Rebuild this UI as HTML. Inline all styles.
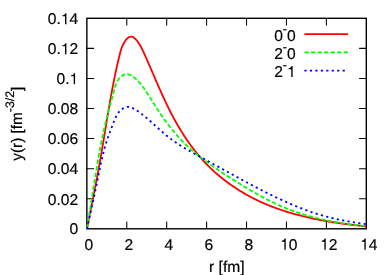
<!DOCTYPE html>
<html><head><meta charset="utf-8"><title>plot</title>
<style>html,body{margin:0;padding:0;background:#fff}body{width:392px;height:275px;overflow:hidden}</style>
</head><body>
<svg width="392" height="275" viewBox="0 0 392 275" style="display:block;will-change:transform">
<rect width="392" height="275" fill="#fff"/>
<g font-family="Liberation Sans, sans-serif" font-size="15.6px" fill="#000" stroke="#000" stroke-width="0.2" text-rendering="geometricPrecision">
<text x="69.48" y="234.45">0</text>
<text x="47.79" y="204.50">0.02</text>
<text x="47.79" y="174.20">0.04</text>
<text x="47.79" y="144.20">0.06</text>
<text x="47.79" y="114.20">0.08</text>
<text x="56.47" y="84.20">0.</text><path transform="translate(69.48,84.20) scale(0.01560,-0.01560)" d="M359,0H272V505H101V568Q176,571 226,612Q276,653 296,709H359Z"/>
<text x="47.79" y="54.20">0.</text><path transform="translate(60.80,54.20) scale(0.01560,-0.01560)" d="M359,0H272V505H101V568Q176,571 226,612Q276,653 296,709H359Z"/><text x="69.48" y="54.20">2</text>
<text x="47.79" y="24.20">0.</text><path transform="translate(60.80,24.20) scale(0.01560,-0.01560)" d="M359,0H272V505H101V568Q176,571 226,612Q276,653 296,709H359Z"/><text x="69.48" y="24.20">4</text>
<text x="84.46" y="249.65">0</text>
<text x="124.46" y="249.65">2</text>
<text x="164.46" y="249.65">4</text>
<text x="204.46" y="249.65">6</text>
<text x="244.46" y="249.65">8</text>
<path transform="translate(280.13,249.65) scale(0.01560,-0.01560)" d="M359,0H272V505H101V568Q176,571 226,612Q276,653 296,709H359Z"/><text x="288.80" y="249.65">0</text>
<path transform="translate(320.13,249.65) scale(0.01560,-0.01560)" d="M359,0H272V505H101V568Q176,571 226,612Q276,653 296,709H359Z"/><text x="328.80" y="249.65">2</text>
<path transform="translate(360.13,249.65) scale(0.01560,-0.01560)" d="M359,0H272V505H101V568Q176,571 226,612Q276,653 296,709H359Z"/><text x="368.80" y="249.65">4</text>
<text x="226.8" y="272.1" text-anchor="middle">r [fm]</text>
<text transform="translate(22.2,123.7) rotate(-90)" text-anchor="middle" font-size="15.3px">y(r) [fm<tspan dy="-8.3" font-size="12.3px">-3/2</tspan><tspan dy="8.3">]</tspan></text>
<text x="295.7" y="40.85" text-anchor="end">0<tspan dy="-7.7" font-size="12.5px">-</tspan><tspan dy="7.7">0</tspan></text>
<text x="295.7" y="59.15" text-anchor="end">2<tspan dy="-7.7" font-size="12.5px">-</tspan><tspan dy="7.7">0</tspan></text>
<text x="287.03" y="77.05" text-anchor="end">2<tspan dy="-7.7" font-size="12.5px">-</tspan></text>
<path transform="translate(287.03,77.05) scale(0.01560,-0.01560)" d="M359,0H272V505H101V568Q176,571 226,612Q276,653 296,709H359Z"/>
</g>
<g stroke="#000" stroke-width="1.4" fill="none">
<rect x="86.85" y="18.3" width="279.45000000000005" height="210.5"/>
<path d="M126.77,228.8v-7.2M126.77,18.3v7.2M166.69,228.8v-7.2M166.69,18.3v7.2M206.61,228.8v-7.2M206.61,18.3v7.2M246.54,228.8v-7.2M246.54,18.3v7.2M286.46,228.8v-7.2M286.46,18.3v7.2M326.38,228.8v-7.2M326.38,18.3v7.2M86.85,198.73h7.2M366.3,198.73h-7.2M86.85,168.66h7.2M366.3,168.66h-7.2M86.85,138.59h7.2M366.3,138.59h-7.2M86.85,108.51h7.2M366.3,108.51h-7.2M86.85,78.44h7.2M366.3,78.44h-7.2M86.85,48.37h7.2M366.3,48.37h-7.2" stroke-width="1.05"/>
</g>
<g fill="none" stroke-width="1.8" stroke-linejoin="round">
<path d="M304.4,34.10H348.1" stroke="#ff0000"/>
<path d="M87.00,228.70 L87.20,227.67 L87.40,226.64 L87.60,225.61 L87.80,224.58 L88.00,223.55 L88.20,222.52 L88.41,221.48 L88.61,220.45 L88.81,219.42 L89.01,218.39 L89.22,217.36 L89.42,216.33 L89.62,215.29 L89.83,214.26 L90.03,213.23 L90.23,212.20 L90.44,211.16 L90.64,210.13 L90.84,209.10 L91.05,208.06 L91.25,207.03 L91.46,206.00 L91.66,204.96 L91.86,203.93 L92.07,202.89 L92.27,201.86 L92.48,200.83 L92.68,199.79 L92.88,198.76 L93.09,197.72 L93.29,196.69 L93.49,195.65 L93.70,194.62 L93.90,193.58 L94.10,192.55 L94.30,191.51 L94.50,190.48 L94.70,189.44 L94.91,188.41 L95.11,187.37 L95.31,186.34 L95.51,185.30 L95.71,184.27 L95.90,183.23 L96.10,182.20 L96.30,181.16 L96.50,180.13 L96.69,179.09 L96.89,178.05 L97.09,177.02 L97.28,175.98 L97.48,174.95 L97.67,173.91 L97.86,172.87 L98.06,171.84 L98.25,170.80 L98.44,169.77 L98.63,168.73 L98.82,167.69 L99.01,166.66 L99.20,165.62 L99.38,164.59 L99.57,163.55 L99.76,162.51 L99.94,161.48 L100.13,160.44 L100.31,159.41 L100.49,158.37 L100.67,157.34 L100.85,156.30 L101.03,155.26 L101.21,154.23 L101.39,153.19 L101.57,152.16 L101.74,151.12 L101.92,150.08 L102.10,149.05 L102.27,148.01 L102.44,146.98 L102.62,145.94 L102.79,144.90 L102.97,143.87 L103.14,142.83 L103.31,141.80 L103.48,140.76 L103.65,139.72 L103.82,138.69 L104.00,137.65 L104.17,136.61 L104.34,135.58 L104.51,134.54 L104.68,133.50 L104.85,132.47 L105.02,131.43 L105.19,130.39 L105.36,129.36 L105.53,128.32 L105.70,127.28 L105.87,126.25 L106.04,125.21 L106.21,124.17 L106.38,123.14 L106.55,122.10 L106.72,121.06 L106.89,120.02 L107.06,118.99 L107.24,117.95 L107.41,116.91 L107.58,115.87 L107.76,114.83 L107.93,113.79 L108.10,112.76 L108.28,111.72 L108.45,110.68 L108.63,109.64 L108.81,108.60 L108.98,107.56 L109.16,106.52 L109.34,105.48 L109.52,104.44 L109.70,103.40 L109.88,102.36 L110.06,101.32 L110.25,100.28 L110.43,99.24 L110.61,98.20 L110.80,97.16 L110.99,96.12 L111.17,95.08 L111.36,94.04 L111.55,93.00 L111.74,91.96 L111.94,90.91 L112.13,89.87 L112.32,88.83 L112.52,87.79 L112.72,86.75 L112.92,85.70 L113.12,84.66 L113.32,83.62 L113.52,82.58 L113.72,81.54 L113.93,80.50 L114.13,79.46 L114.34,78.42 L114.55,77.39 L114.76,76.35 L114.98,75.32 L115.19,74.28 L115.41,73.25 L115.63,72.22 L115.84,71.19 L116.07,70.16 L116.29,69.13 L116.51,68.11 L116.74,67.08 L116.97,66.06 L117.20,65.04 L117.43,64.02 L117.66,63.01 L117.90,62.00 L118.13,60.98 L118.37,59.98 L118.61,58.97 L118.86,57.97 L119.10,56.96 L119.35,55.97 L119.60,54.97 L119.85,53.98 L120.11,52.99 L120.37,52.00 L120.65,51.01 L120.95,50.02 L121.27,49.03 L121.62,48.04 L122.00,47.04 L122.42,46.04 L122.87,45.04 L123.38,44.03 L123.93,43.01 L124.53,42.00 L125.19,41.00 L125.88,40.05 L126.61,39.17 L127.37,38.37 L128.15,37.69 L128.96,37.15 L129.77,36.76 L130.60,36.56 L131.43,36.56 L132.27,36.76 L133.09,37.13 L133.91,37.65 L134.71,38.29 L135.49,39.04 L136.25,39.88 L136.98,40.77 L137.69,41.69 L138.35,42.63 L138.98,43.57 L139.57,44.50 L140.13,45.43 L140.66,46.36 L141.17,47.29 L141.65,48.21 L142.12,49.14 L142.57,50.06 L143.01,50.99 L143.44,51.92 L143.87,52.85 L144.29,53.79 L144.72,54.73 L145.14,55.67 L145.56,56.61 L145.99,57.56 L146.41,58.51 L146.83,59.47 L147.25,60.42 L147.67,61.38 L148.09,62.34 L148.51,63.31 L148.93,64.27 L149.35,65.24 L149.77,66.21 L150.19,67.17 L150.61,68.15 L151.03,69.12 L151.45,70.09 L151.87,71.06 L152.29,72.04 L152.71,73.01 L153.13,73.99 L153.54,74.96 L153.96,75.93 L154.38,76.91 L154.80,77.88 L155.22,78.85 L155.64,79.83 L156.06,80.80 L156.48,81.77 L156.90,82.74 L157.33,83.71 L157.75,84.68 L158.17,85.65 L158.60,86.61 L159.02,87.58 L159.45,88.54 L159.88,89.51 L160.30,90.47 L160.73,91.43 L161.16,92.39 L161.60,93.35 L162.03,94.31 L162.47,95.27 L162.90,96.23 L163.34,97.18 L163.78,98.14 L164.22,99.09 L164.67,100.04 L165.11,100.99 L165.56,101.94 L166.01,102.89 L166.46,103.84 L166.92,104.78 L167.38,105.73 L167.84,106.67 L168.30,107.61 L168.76,108.55 L169.23,109.49 L169.70,110.43 L170.18,111.36 L170.65,112.29 L171.13,113.23 L171.61,114.16 L172.10,115.09 L172.59,116.02 L173.08,116.94 L173.57,117.87 L174.07,118.79 L174.58,119.71 L175.08,120.63 L175.59,121.55 L176.11,122.46 L176.62,123.38 L177.14,124.29 L177.67,125.20 L178.20,126.11 L178.73,127.01 L179.26,127.92 L179.80,128.82 L180.35,129.72 L180.90,130.61 L181.45,131.51 L182.00,132.40 L182.56,133.29 L183.12,134.18 L183.69,135.06 L184.26,135.94 L184.84,136.82 L185.42,137.69 L186.00,138.57 L186.59,139.44 L187.18,140.30 L187.78,141.17 L188.38,142.03 L188.98,142.89 L189.59,143.74 L190.21,144.59 L190.82,145.44 L191.45,146.28 L192.07,147.12 L192.70,147.96 L193.34,148.79 L193.98,149.62 L194.62,150.45 L195.27,151.27 L195.93,152.09 L196.58,152.91 L197.25,153.72 L197.91,154.53 L198.59,155.33 L199.26,156.13 L199.94,156.92 L200.63,157.71 L201.32,158.50 L202.02,159.28 L202.72,160.06 L203.42,160.83 L204.13,161.60 L204.85,162.36 L205.57,163.12 L206.29,163.88 L207.02,164.63 L207.75,165.38 L208.49,166.12 L209.24,166.85 L209.99,167.58 L210.74,168.31 L211.50,169.03 L212.26,169.75 L213.03,170.46 L213.80,171.17 L214.58,171.87 L215.36,172.57 L216.15,173.26 L216.94,173.95 L217.73,174.63 L218.53,175.31 L219.33,175.99 L220.14,176.66 L220.95,177.32 L221.77,177.98 L222.59,178.63 L223.41,179.28 L224.24,179.93 L225.07,180.57 L225.91,181.20 L226.74,181.83 L227.59,182.46 L228.44,183.08 L229.29,183.69 L230.14,184.30 L231.00,184.91 L231.86,185.51 L232.73,186.11 L233.60,186.70 L234.47,187.28 L235.34,187.86 L236.22,188.44 L237.11,189.01 L237.99,189.57 L238.88,190.14 L239.78,190.69 L240.67,191.24 L241.57,191.79 L242.47,192.33 L243.38,192.86 L244.29,193.39 L245.20,193.92 L246.11,194.44 L247.03,194.95 L247.95,195.46 L248.87,195.97 L249.80,196.47 L250.73,196.96 L251.66,197.45 L252.59,197.94 L253.53,198.42 L254.47,198.89 L255.41,199.36 L256.35,199.82 L257.30,200.28 L258.25,200.74 L259.20,201.19 L260.15,201.63 L261.11,202.07 L262.06,202.50 L263.02,202.93 L263.99,203.35 L264.95,203.77 L265.92,204.18 L266.89,204.59 L267.86,204.99 L268.83,205.38 L269.80,205.78 L270.78,206.16 L271.76,206.54 L272.74,206.92 L273.72,207.29 L274.70,207.66 L275.69,208.02 L276.68,208.38 L277.67,208.74 L278.66,209.08 L279.65,209.43 L280.64,209.77 L281.64,210.10 L282.64,210.43 L283.64,210.76 L284.64,211.08 L285.64,211.40 L286.64,211.71 L287.65,212.02 L288.66,212.33 L289.66,212.63 L290.67,212.93 L291.68,213.22 L292.70,213.52 L293.71,213.81 L294.72,214.10 L295.74,214.38 L296.76,214.66 L297.78,214.93 L298.80,215.20 L299.82,215.47 L300.84,215.73 L301.86,215.99 L302.89,216.25 L303.91,216.50 L304.94,216.75 L305.97,217.00 L306.99,217.24 L308.02,217.48 L309.05,217.71 L310.08,217.94 L311.12,218.17 L312.15,218.40 L313.18,218.62 L314.22,218.84 L315.25,219.05 L316.29,219.27 L317.32,219.48 L318.36,219.68 L319.40,219.89 L320.44,220.09 L321.47,220.28 L322.51,220.48 L323.55,220.67 L324.59,220.86 L325.63,221.04 L326.68,221.23 L327.72,221.41 L328.76,221.59 L329.80,221.76 L330.84,221.93 L331.89,222.09 L332.93,222.26 L333.97,222.41 L335.02,222.57 L336.06,222.72 L337.11,222.88 L338.15,223.03 L339.19,223.17 L340.24,223.32 L341.28,223.46 L342.33,223.60 L343.37,223.74 L344.42,223.88 L345.46,224.01 L346.51,224.15 L347.55,224.28 L348.59,224.41 L349.64,224.53 L350.68,224.66 L351.73,224.78 L352.77,224.90 L353.81,225.03 L354.85,225.14 L355.90,225.26 L356.94,225.38 L357.98,225.49 L359.02,225.60 L360.06,225.71 L361.10,225.82 L362.14,225.93 L363.18,226.04 L364.22,226.15 L365.26,226.25 L366.10,226.33" stroke="#ff0000"/>
<path d="M304.4,52.40H348.1" stroke="#00ff00" stroke-dasharray="4.37,2.18"/>
<path d="M87.00,228.70 L87.15,227.79 L87.29,226.89 L87.44,225.98 L87.58,225.07 L87.73,224.16 L87.87,223.26 L88.02,222.35 L88.16,221.44 L88.31,220.53 L88.45,219.63 L88.59,218.72 L88.74,217.81 L88.88,216.90 L89.02,216.00 L89.17,215.09 L89.31,214.18 L89.46,213.27 L89.60,212.37 L89.74,211.46 L89.88,210.55 L90.03,209.64 L90.17,208.74 L90.31,207.83 L90.46,206.92 L90.60,206.01 L90.74,205.10 L90.89,204.20 L91.03,203.29 L91.17,202.38 L91.31,201.47 L91.46,200.56 L91.60,199.66 L91.74,198.75 L91.89,197.84 L92.03,196.93 L92.17,196.03 L92.32,195.12 L92.46,194.21 L92.61,193.30 L92.75,192.39 L92.89,191.49 L93.04,190.58 L93.18,189.67 L93.33,188.76 L93.47,187.86 L93.62,186.95 L93.76,186.04 L93.91,185.13 L94.05,184.23 L94.20,183.32 L94.35,182.41 L94.49,181.50 L94.64,180.60 L94.79,179.69 L94.93,178.78 L95.08,177.88 L95.23,176.97 L95.38,176.06 L95.52,175.15 L95.67,174.25 L95.82,173.34 L95.97,172.43 L96.12,171.53 L96.27,170.62 L96.42,169.71 L96.57,168.81 L96.73,167.90 L96.88,167.00 L97.03,166.09 L97.18,165.18 L97.34,164.28 L97.49,163.37 L97.65,162.47 L97.80,161.56 L97.96,160.65 L98.12,159.75 L98.27,158.84 L98.43,157.94 L98.59,157.03 L98.75,156.13 L98.91,155.23 L99.08,154.32 L99.24,153.42 L99.40,152.51 L99.57,151.61 L99.74,150.71 L99.90,149.80 L100.07,148.90 L100.24,148.00 L100.41,147.09 L100.58,146.19 L100.75,145.29 L100.93,144.39 L101.10,143.48 L101.28,142.58 L101.46,141.68 L101.64,140.78 L101.82,139.88 L102.00,138.98 L102.18,138.08 L102.37,137.18 L102.55,136.28 L102.74,135.38 L102.93,134.48 L103.12,133.58 L103.31,132.68 L103.50,131.79 L103.70,130.89 L103.90,129.99 L104.09,129.09 L104.29,128.20 L104.50,127.30 L104.70,126.40 L104.91,125.51 L105.11,124.61 L105.32,123.72 L105.53,122.82 L105.75,121.93 L105.96,121.04 L106.18,120.14 L106.40,119.25 L106.62,118.36 L106.84,117.46 L107.07,116.57 L107.29,115.68 L107.52,114.79 L107.75,113.90 L107.98,113.01 L108.22,112.12 L108.45,111.23 L108.69,110.34 L108.93,109.45 L109.17,108.56 L109.40,107.67 L109.64,106.78 L109.89,105.89 L110.13,105.01 L110.37,104.12 L110.61,103.23 L110.85,102.34 L111.09,101.46 L111.33,100.57 L111.58,99.68 L111.82,98.80 L112.06,97.91 L112.30,97.02 L112.53,96.14 L112.77,95.25 L113.01,94.36 L113.24,93.47 L113.48,92.59 L113.71,91.70 L113.94,90.81 L114.17,89.93 L114.40,89.04 L114.64,88.16 L114.89,87.28 L115.16,86.41 L115.44,85.54 L115.75,84.68 L116.08,83.82 L116.44,82.98 L116.83,82.14 L117.26,81.32 L117.73,80.51 L118.25,79.71 L118.81,78.94 L119.42,78.18 L120.06,77.47 L120.74,76.79 L121.45,76.17 L122.19,75.62 L122.96,75.14 L123.74,74.74 L124.55,74.43 L125.37,74.23 L126.21,74.14 L127.05,74.15 L127.89,74.27 L128.74,74.49 L129.59,74.79 L130.43,75.16 L131.26,75.59 L132.08,76.08 L132.89,76.62 L133.67,77.19 L134.44,77.78 L135.18,78.39 L135.89,79.01 L136.58,79.64 L137.24,80.28 L137.89,80.92 L138.51,81.58 L139.12,82.24 L139.71,82.91 L140.29,83.59 L140.86,84.27 L141.41,84.97 L141.95,85.67 L142.49,86.37 L143.02,87.09 L143.55,87.81 L144.07,88.53 L144.59,89.26 L145.11,89.99 L145.62,90.74 L146.13,91.48 L146.63,92.23 L147.13,92.98 L147.63,93.74 L148.13,94.50 L148.62,95.27 L149.11,96.03 L149.60,96.80 L150.09,97.58 L150.58,98.35 L151.07,99.13 L151.56,99.91 L152.04,100.69 L152.53,101.47 L153.02,102.25 L153.50,103.04 L153.99,103.82 L154.48,104.61 L154.97,105.39 L155.46,106.18 L155.95,106.96 L156.45,107.74 L156.94,108.52 L157.44,109.30 L157.95,110.08 L158.45,110.86 L158.96,111.64 L159.47,112.41 L159.98,113.18 L160.50,113.95 L161.02,114.72 L161.54,115.48 L162.07,116.25 L162.60,117.01 L163.13,117.77 L163.66,118.52 L164.20,119.28 L164.74,120.03 L165.29,120.78 L165.84,121.53 L166.39,122.27 L166.94,123.01 L167.50,123.75 L168.06,124.49 L168.62,125.22 L169.19,125.95 L169.75,126.68 L170.33,127.40 L170.90,128.13 L171.48,128.85 L172.06,129.56 L172.65,130.28 L173.24,130.99 L173.83,131.69 L174.43,132.40 L175.02,133.10 L175.63,133.80 L176.23,134.49 L176.84,135.18 L177.45,135.87 L178.06,136.55 L178.68,137.24 L179.30,137.91 L179.93,138.59 L180.56,139.26 L181.19,139.92 L181.82,140.59 L182.46,141.25 L183.10,141.90 L183.75,142.55 L184.40,143.20 L185.05,143.84 L185.71,144.48 L186.36,145.12 L187.03,145.75 L187.69,146.38 L188.36,147.00 L189.03,147.62 L189.71,148.24 L190.39,148.85 L191.07,149.46 L191.76,150.06 L192.44,150.66 L193.14,151.26 L193.83,151.85 L194.53,152.44 L195.23,153.03 L195.93,153.62 L196.63,154.20 L197.34,154.77 L198.05,155.35 L198.77,155.92 L199.48,156.49 L200.20,157.05 L200.92,157.62 L201.64,158.17 L202.37,158.73 L203.10,159.29 L203.83,159.84 L204.56,160.39 L205.29,160.93 L206.03,161.48 L206.77,162.02 L207.51,162.56 L208.25,163.09 L209.00,163.63 L209.74,164.16 L210.49,164.69 L211.24,165.22 L211.99,165.74 L212.74,166.27 L213.50,166.79 L214.25,167.31 L215.01,167.83 L215.77,168.34 L216.53,168.86 L217.29,169.37 L218.05,169.88 L218.81,170.39 L219.58,170.90 L220.34,171.41 L221.11,171.92 L221.88,172.42 L222.65,172.93 L223.42,173.43 L224.19,173.93 L224.96,174.43 L225.73,174.93 L226.50,175.43 L227.28,175.93 L228.05,176.42 L228.82,176.92 L229.60,177.41 L230.37,177.91 L231.15,178.40 L231.93,178.90 L232.70,179.39 L233.48,179.88 L234.26,180.37 L235.03,180.87 L235.81,181.35 L236.59,181.84 L237.37,182.33 L238.15,182.82 L238.93,183.30 L239.71,183.79 L240.49,184.27 L241.28,184.76 L242.06,185.24 L242.84,185.72 L243.63,186.20 L244.41,186.67 L245.20,187.15 L245.98,187.62 L246.77,188.10 L247.56,188.57 L248.35,189.04 L249.13,189.51 L249.92,189.97 L250.72,190.44 L251.51,190.90 L252.30,191.36 L253.09,191.82 L253.89,192.28 L254.68,192.73 L255.48,193.19 L256.28,193.64 L257.08,194.09 L257.88,194.54 L258.68,194.98 L259.48,195.42 L260.28,195.86 L261.08,196.30 L261.89,196.74 L262.69,197.17 L263.50,197.60 L264.31,198.03 L265.12,198.46 L265.93,198.88 L266.74,199.30 L267.55,199.72 L268.37,200.13 L269.18,200.55 L270.00,200.96 L270.82,201.36 L271.64,201.77 L272.46,202.17 L273.28,202.56 L274.11,202.96 L274.93,203.35 L275.76,203.74 L276.58,204.12 L277.41,204.51 L278.24,204.89 L279.08,205.26 L279.91,205.63 L280.75,206.00 L281.58,206.37 L282.42,206.73 L283.26,207.08 L284.10,207.44 L284.95,207.79 L285.79,208.14 L286.64,208.48 L287.49,208.82 L288.34,209.15 L289.19,209.49 L290.04,209.81 L290.90,210.14 L291.76,210.47 L292.61,210.79 L293.47,211.11 L294.34,211.42 L295.20,211.73 L296.07,212.03 L296.93,212.33 L297.80,212.63 L298.67,212.92 L299.55,213.21 L300.42,213.50 L301.30,213.78 L302.17,214.06 L303.05,214.33 L303.93,214.61 L304.81,214.87 L305.69,215.14 L306.58,215.40 L307.46,215.65 L308.35,215.91 L309.24,216.16 L310.12,216.40 L311.01,216.65 L311.90,216.89 L312.80,217.12 L313.69,217.35 L314.58,217.58 L315.48,217.81 L316.37,218.03 L317.27,218.25 L318.17,218.47 L319.07,218.69 L319.97,218.90 L320.87,219.10 L321.77,219.31 L322.67,219.51 L323.58,219.71 L324.48,219.91 L325.38,220.10 L326.29,220.29 L327.19,220.48 L328.10,220.66 L329.01,220.85 L329.91,221.02 L330.82,221.20 L331.73,221.36 L332.64,221.53 L333.55,221.69 L334.46,221.86 L335.37,222.01 L336.28,222.17 L337.19,222.32 L338.10,222.47 L339.01,222.62 L339.92,222.77 L340.83,222.91 L341.74,223.05 L342.66,223.19 L343.57,223.33 L344.48,223.47 L345.39,223.60 L346.30,223.73 L347.22,223.86 L348.13,223.99 L349.04,224.11 L349.95,224.23 L350.86,224.36 L351.77,224.47 L352.68,224.59 L353.59,224.71 L354.50,224.82 L355.41,224.93 L356.32,225.04 L357.23,225.15 L358.14,225.26 L359.05,225.36 L359.96,225.47 L360.87,225.57 L361.77,225.67 L362.68,225.77 L363.58,225.86 L364.49,225.96 L365.39,226.05 L366.10,226.13" stroke="#00ff00" stroke-dasharray="4.37,2.18"/>
<path d="M304.4,70.70H348.1" stroke="#0000ff" stroke-dasharray="2.18,3.28"/>
<path d="M87.00,228.70 L87.17,227.91 L87.34,227.12 L87.51,226.34 L87.69,225.55 L87.86,224.76 L88.03,223.98 L88.20,223.19 L88.38,222.40 L88.55,221.62 L88.72,220.83 L88.90,220.05 L89.07,219.26 L89.24,218.48 L89.42,217.69 L89.59,216.91 L89.77,216.12 L89.94,215.34 L90.11,214.55 L90.29,213.77 L90.46,212.98 L90.64,212.20 L90.81,211.42 L90.99,210.63 L91.16,209.85 L91.33,209.06 L91.51,208.28 L91.68,207.50 L91.85,206.71 L92.03,205.93 L92.20,205.15 L92.37,204.36 L92.55,203.58 L92.72,202.80 L92.89,202.01 L93.06,201.23 L93.23,200.44 L93.41,199.66 L93.58,198.88 L93.75,198.09 L93.92,197.31 L94.09,196.52 L94.26,195.74 L94.43,194.95 L94.59,194.17 L94.76,193.38 L94.93,192.60 L95.10,191.81 L95.26,191.03 L95.43,190.24 L95.60,189.46 L95.76,188.67 L95.92,187.88 L96.09,187.10 L96.25,186.31 L96.41,185.52 L96.58,184.73 L96.74,183.95 L96.90,183.16 L97.06,182.37 L97.22,181.58 L97.37,180.79 L97.53,180.00 L97.69,179.21 L97.85,178.42 L98.01,177.63 L98.16,176.84 L98.32,176.05 L98.48,175.26 L98.63,174.48 L98.79,173.69 L98.95,172.90 L99.11,172.11 L99.27,171.32 L99.43,170.53 L99.59,169.74 L99.75,168.95 L99.91,168.16 L100.08,167.37 L100.24,166.58 L100.41,165.79 L100.57,165.01 L100.74,164.22 L100.91,163.43 L101.08,162.64 L101.25,161.86 L101.42,161.07 L101.60,160.29 L101.78,159.50 L101.96,158.72 L102.14,157.93 L102.32,157.15 L102.51,156.37 L102.69,155.59 L102.88,154.80 L103.07,154.02 L103.27,153.24 L103.47,152.46 L103.67,151.69 L103.87,150.91 L104.07,150.13 L104.28,149.36 L104.49,148.58 L104.71,147.81 L104.92,147.03 L105.14,146.26 L105.37,145.49 L105.60,144.72 L105.83,143.95 L106.06,143.18 L106.30,142.41 L106.54,141.65 L106.79,140.88 L107.04,140.12 L107.29,139.36 L107.55,138.60 L107.81,137.84 L108.07,137.08 L108.34,136.32 L108.61,135.56 L108.89,134.81 L109.17,134.05 L109.45,133.30 L109.73,132.55 L110.02,131.79 L110.30,131.04 L110.59,130.29 L110.88,129.54 L111.17,128.79 L111.46,128.04 L111.75,127.29 L112.05,126.54 L112.34,125.79 L112.63,125.04 L112.92,124.29 L113.21,123.54 L113.50,122.79 L113.79,122.04 L114.07,121.29 L114.36,120.54 L114.66,119.79 L114.96,119.05 L115.27,118.31 L115.59,117.58 L115.93,116.86 L116.28,116.14 L116.65,115.44 L117.04,114.74 L117.46,114.06 L117.90,113.39 L118.38,112.73 L118.88,112.09 L119.42,111.46 L119.98,110.86 L120.58,110.28 L121.21,109.73 L121.86,109.21 L122.54,108.73 L123.23,108.30 L123.94,107.92 L124.67,107.59 L125.41,107.32 L126.16,107.11 L126.91,106.97 L127.66,106.91 L128.42,106.92 L129.18,107.00 L129.94,107.15 L130.69,107.35 L131.45,107.61 L132.20,107.92 L132.94,108.27 L133.68,108.65 L134.41,109.06 L135.14,109.49 L135.85,109.94 L136.56,110.40 L137.26,110.86 L137.94,111.32 L138.62,111.79 L139.29,112.26 L139.95,112.73 L140.60,113.20 L141.25,113.68 L141.88,114.15 L142.51,114.64 L143.14,115.12 L143.76,115.61 L144.38,116.10 L144.99,116.60 L145.60,117.10 L146.21,117.60 L146.82,118.11 L147.42,118.62 L148.03,119.14 L148.63,119.66 L149.23,120.18 L149.83,120.71 L150.43,121.24 L151.03,121.77 L151.62,122.31 L152.22,122.84 L152.82,123.38 L153.41,123.92 L154.01,124.46 L154.60,125.01 L155.20,125.55 L155.80,126.09 L156.39,126.64 L156.99,127.18 L157.59,127.73 L158.19,128.27 L158.79,128.81 L159.39,129.36 L159.99,129.90 L160.60,130.44 L161.20,130.97 L161.81,131.51 L162.42,132.04 L163.03,132.57 L163.64,133.10 L164.25,133.63 L164.87,134.15 L165.49,134.67 L166.11,135.18 L166.74,135.69 L167.36,136.20 L167.99,136.70 L168.63,137.20 L169.26,137.69 L169.90,138.18 L170.54,138.67 L171.19,139.15 L171.84,139.62 L172.49,140.09 L173.14,140.56 L173.79,141.03 L174.45,141.49 L175.11,141.94 L175.77,142.40 L176.44,142.85 L177.10,143.30 L177.77,143.74 L178.44,144.18 L179.11,144.62 L179.79,145.05 L180.47,145.48 L181.14,145.91 L181.82,146.34 L182.51,146.76 L183.19,147.18 L183.87,147.60 L184.56,148.01 L185.25,148.43 L185.94,148.84 L186.63,149.25 L187.32,149.65 L188.02,150.06 L188.71,150.46 L189.41,150.86 L190.10,151.26 L190.80,151.66 L191.50,152.06 L192.20,152.45 L192.90,152.84 L193.60,153.24 L194.30,153.63 L195.01,154.02 L195.71,154.41 L196.41,154.79 L197.12,155.18 L197.82,155.57 L198.53,155.95 L199.24,156.34 L199.94,156.72 L200.65,157.11 L201.36,157.49 L202.06,157.88 L202.77,158.26 L203.48,158.64 L204.18,159.03 L204.89,159.41 L205.59,159.80 L206.30,160.18 L207.01,160.56 L207.71,160.95 L208.42,161.33 L209.12,161.72 L209.83,162.11 L210.53,162.49 L211.24,162.88 L211.94,163.26 L212.65,163.65 L213.35,164.04 L214.05,164.42 L214.76,164.81 L215.46,165.20 L216.16,165.59 L216.87,165.97 L217.57,166.36 L218.27,166.75 L218.98,167.14 L219.68,167.53 L220.38,167.91 L221.09,168.30 L221.79,168.69 L222.49,169.08 L223.20,169.47 L223.90,169.85 L224.60,170.24 L225.30,170.63 L226.01,171.02 L226.71,171.41 L227.41,171.79 L228.12,172.18 L228.82,172.57 L229.52,172.96 L230.23,173.34 L230.93,173.73 L231.63,174.12 L232.34,174.51 L233.04,174.89 L233.74,175.28 L234.45,175.67 L235.15,176.05 L235.85,176.44 L236.56,176.82 L237.26,177.21 L237.97,177.59 L238.67,177.98 L239.38,178.36 L240.08,178.75 L240.79,179.13 L241.49,179.52 L242.20,179.90 L242.91,180.28 L243.61,180.66 L244.32,181.05 L245.02,181.43 L245.73,181.81 L246.44,182.19 L247.15,182.57 L247.85,182.95 L248.56,183.33 L249.27,183.71 L249.98,184.09 L250.69,184.47 L251.40,184.84 L252.11,185.22 L252.82,185.60 L253.53,185.97 L254.24,186.35 L254.95,186.72 L255.66,187.10 L256.37,187.47 L257.09,187.84 L257.80,188.21 L258.51,188.59 L259.23,188.96 L259.94,189.33 L260.66,189.70 L261.37,190.06 L262.09,190.43 L262.80,190.80 L263.52,191.16 L264.24,191.53 L264.95,191.89 L265.67,192.26 L266.39,192.62 L267.11,192.98 L267.83,193.34 L268.55,193.70 L269.27,194.05 L269.99,194.41 L270.71,194.77 L271.43,195.12 L272.16,195.47 L272.88,195.83 L273.60,196.18 L274.33,196.53 L275.05,196.87 L275.78,197.22 L276.50,197.57 L277.23,197.91 L277.96,198.25 L278.68,198.59 L279.41,198.93 L280.14,199.27 L280.87,199.61 L281.60,199.94 L282.33,200.28 L283.06,200.61 L283.80,200.94 L284.53,201.27 L285.26,201.60 L286.00,201.92 L286.73,202.25 L287.47,202.57 L288.20,202.89 L288.94,203.21 L289.68,203.52 L290.42,203.84 L291.15,204.16 L291.89,204.48 L292.64,204.80 L293.38,205.11 L294.12,205.43 L294.86,205.74 L295.60,206.04 L296.35,206.35 L297.09,206.66 L297.84,206.96 L298.59,207.26 L299.33,207.56 L300.08,207.85 L300.83,208.15 L301.58,208.44 L302.33,208.73 L303.08,209.02 L303.83,209.30 L304.59,209.59 L305.34,209.87 L306.09,210.14 L306.85,210.42 L307.61,210.69 L308.36,210.97 L309.12,211.23 L309.88,211.50 L310.64,211.76 L311.40,212.03 L312.16,212.28 L312.93,212.54 L313.69,212.79 L314.45,213.04 L315.22,213.29 L315.98,213.54 L316.75,213.78 L317.52,214.02 L318.29,214.26 L319.06,214.49 L319.83,214.73 L320.60,214.96 L321.37,215.18 L322.15,215.41 L322.92,215.63 L323.70,215.85 L324.47,216.06 L325.25,216.28 L326.03,216.49 L326.81,216.70 L327.59,216.90 L328.37,217.11 L329.15,217.31 L329.93,217.51 L330.71,217.70 L331.49,217.89 L332.28,218.07 L333.06,218.25 L333.84,218.43 L334.63,218.61 L335.41,218.79 L336.20,218.96 L336.99,219.13 L337.77,219.30 L338.56,219.47 L339.35,219.63 L340.14,219.79 L340.93,219.96 L341.72,220.11 L342.51,220.27 L343.30,220.43 L344.09,220.58 L344.88,220.73 L345.67,220.88 L346.46,221.03 L347.25,221.17 L348.05,221.32 L348.84,221.46 L349.63,221.60 L350.42,221.74 L351.22,221.87 L352.01,222.01 L352.80,222.14 L353.60,222.27 L354.39,222.40 L355.18,222.53 L355.98,222.66 L356.77,222.78 L357.57,222.91 L358.36,223.03 L359.15,223.15 L359.95,223.27 L360.74,223.39 L361.54,223.51 L362.33,223.62 L363.13,223.74 L363.92,223.85 L364.71,223.96 L365.51,224.07 L366.10,224.15" stroke="#0000ff" stroke-dasharray="2.18,3.28"/>
</g>
</svg>
</body></html>
